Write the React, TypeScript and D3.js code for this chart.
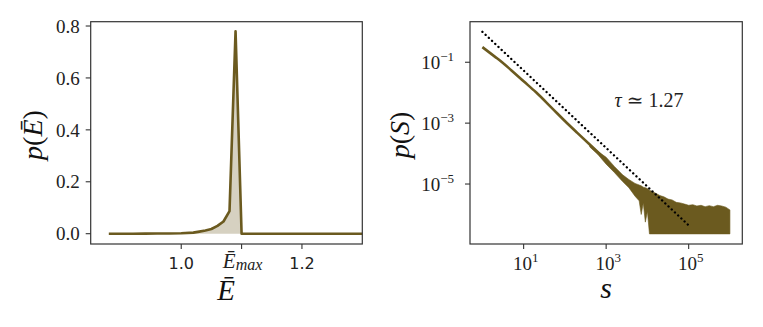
import * as d3 from 'd3';

// left panel: distribution of mean energy
const energy = [0.88, 0.9, 0.92, 0.94, 0.96, 0.98, 1.0, 1.02, 1.03, 1.04, 1.05, 1.06, 1.07, 1.08, 1.09, 1.1, 1.15, 1.2, 1.25, 1.3];
const pEnergy = [0, 0, 0, 0.0003, 0.0006, 0.001, 0.0015, 0.004, 0.008, 0.012, 0.018, 0.03, 0.047, 0.087, 0.78, 0, 0, 0, 0, 0];
const leftYTicks = [0, 0.2, 0.4, 0.6, 0.8];
const leftXTicks = [1.0, 1.1, 1.2];
const leftXLabels = ['1.0', 'Emax', '1.2'];

// right panel: avalanche size distribution
const sizeMain = [1, 2, 3, 5, 10, 20, 50, 100, 200, 500, 1000];
const pSizeMain = [0.314, 0.153, 0.1, 0.0548, 0.0237, 0.0103, 0.003, 0.00118, 0.00048, 0.000149, 0.000062];
const sizeTail = [400, 630, 1000, 1580, 2510, 3550, 5010, 6310, 7080, 7940, 8910, 10000, 11200, 12600, 15800, 20000, 25100, 31600, 39800, 50100, 63100, 79400, 1e5, 1.26e5, 1.58e5, 2.0e5, 2.51e5, 3.16e5, 3.98e5, 5.01e5, 6.31e5, 7.94e5, 1e6];
const pTailHigh = [2.0e-4, 1.17e-4, 7.6e-5, 3.8e-5, 2.0e-5, 1.41e-5, 1.05e-5, 9.3e-6, 8.7e-6, 7.9e-6, 7.6e-6, 7.1e-6, 6.3e-6, 5.8e-6, 5.0e-6, 4.2e-6, 3.8e-6, 3.2e-6, 3.0e-6, 2.5e-6, 2.4e-6, 2.2e-6, 2.0e-6, 2.1e-6, 1.9e-6, 2.0e-6, 1.8e-6, 1.95e-6, 1.8e-6, 2.0e-6, 1.9e-6, 1.74e-6, 1.41e-6];
const pTailLow = [1.66e-4, 9.3e-5, 4.5e-5, 2.4e-5, 1.2e-5, 7.6e-6, 4.0e-6, 2.8e-6, 1.0e-6, 2.4e-6, 5.6e-7, 1.26e-6, 2.3e-7, 2.3e-7, 2.3e-7, 2.3e-7, 2.3e-7, 2.3e-7, 2.3e-7, 2.3e-7, 2.3e-7, 2.3e-7, 2.3e-7, 2.3e-7, 2.3e-7, 2.3e-7, 2.3e-7, 2.3e-7, 2.3e-7, 2.3e-7, 2.3e-7, 2.3e-7, 2.3e-7];
const fitSize = [1, 1e5];
const fitP = [1, 4.4e-7];
const rightXTicks = [10, 1e3, 1e5];
const rightXExp = ['1', '3', '5'];
const rightYTicks = [1e-1, 1e-3, 1e-5];
const rightYExp = ['\u22121', '\u22123', '\u22125'];

const W = 763, H = 327;
const olive = '#6b5a1f';
const spine = '#333';
const serif = '"Liberation Serif", "DejaVu Serif", serif';
const sans = '"DejaVu Sans", sans-serif';

const L = { left: 90.7, right: 362.3, top: 21.7, bottom: 244 };
const R = { left: 470, right: 742.3, top: 21.7, bottom: 244 };

export default function App() {
    let x0 = d3.scaleLinear().domain([0.85, 1.3]).range([L.left, L.right]),
        y0 = d3.scaleLinear().domain([-0.0397, 0.8166]).range([L.bottom, L.top]),
        x1 = d3.scaleLog().domain([Math.pow(10, -0.3), Math.pow(10, 6.3)]).range([R.left, R.right]),
        y1 = d3.scaleLog().domain([Math.pow(10, -6.97), Math.pow(10, 0.332)]).range([R.bottom, R.top]);

    let leftPts = energy.map((e, i) => [e, pEnergy[i]]);
    let leftLine = d3.line().x(d => x0(d[0])).y(d => y0(d[1]))(leftPts as any);
    let leftArea = d3.area().x(d => x0(d[0])).y0(y0(0)).y1(d => y0(d[1]))(leftPts as any);

    let logLine = d3.line().x(d => x1(d[0])).y(d => y1(d[1]));
    let mainPath = d3.line().x(d => x1(d[0])).y(d => y1(d[1])).curve(d3.curveMonotoneX)(sizeMain.map((s, i) => [s, pSizeMain[i]]) as any);
    let band = sizeTail.map((s, i) => [s, pTailHigh[i]])
        .concat(sizeTail.map((s, i) => [s, pTailLow[i]]).reverse());
    let bandPath = logLine(band as any) + 'Z';
    let fitPath = logLine(fitSize.map((s, i) => [s, fitP[i]]) as any);

    return (
        <svg width={W} height={H} style={{ position: 'absolute', left: 0, top: 0, background: '#fff' }}>
            {/* left panel */}
            <path d={leftArea!} fill={olive} fillOpacity={0.28} stroke="none" />
            <path d={leftLine!} fill="none" stroke={olive} strokeWidth={2.6} strokeLinejoin="round" />
            <rect x={L.left} y={L.top} width={L.right - L.left} height={L.bottom - L.top} fill="none" stroke={spine} strokeWidth={1.2} />
            {leftYTicks.map(t => (
                <g key={t}>
                    <line x1={L.left - 5} x2={L.left} y1={y0(t)} y2={y0(t)} stroke={spine} strokeWidth={1.1} />
                    <text x={L.left - 11} y={y0(t)} dy="0.35em" textAnchor="end" fontFamily={serif} fontSize={19} fill="#222">{t.toFixed(1)}</text>
                </g>
            ))}
            {leftXTicks.map((t, i) => (
                <g key={t}>
                    <line x1={x0(t)} x2={x0(t)} y1={L.bottom} y2={L.bottom + 5} stroke={spine} strokeWidth={1.1} />
                    {leftXLabels[i] === 'Emax' ? (
                        <text x={x0(t) + 1} y={267.5} textAnchor="middle" fontFamily={serif} fontSize={21} fill="#222">
                            <tspan fontStyle="italic">{'\u0112'}</tspan>
                            <tspan fontStyle="italic" fontSize={16} dy={2}>max</tspan>
                        </text>
                    ) : (
                        <text x={x0(t)} y={269} textAnchor="middle" fontFamily={sans} fontSize={16} fill="#222">{leftXLabels[i]}</text>
                    )}
                </g>
            ))}
            <text x={226} y={300} textAnchor="middle" fontFamily={serif} fontSize={29} fontStyle="italic" fill="#111">{'\u0112'}</text>
            <text transform="translate(42,135) rotate(-90)" textAnchor="middle" fontFamily={serif} fontSize={28} fill="#111">
                <tspan fontStyle="italic">p</tspan>(<tspan fontStyle="italic">{'\u0112'}</tspan>)
            </text>

            {/* right panel */}
            <path d={bandPath} fill={olive} stroke={olive} strokeWidth={0.6} />
            <path d={mainPath!} fill="none" stroke={olive} strokeWidth={2.6} strokeLinejoin="round" />
            <path d={fitPath!} fill="none" stroke="#000" strokeWidth={2.3} strokeLinecap="round" strokeDasharray="0.1 4.3" />
            <rect x={R.left} y={R.top} width={R.right - R.left} height={R.bottom - R.top} fill="none" stroke={spine} strokeWidth={1.2} />
            {rightYTicks.map((t, i) => (
                <g key={t}>
                    <line x1={R.left - 5} x2={R.left} y1={y1(t)} y2={y1(t)} stroke={spine} strokeWidth={1.1} />
                    <text x={R.left - 16} y={y1(t) + 7} textAnchor="end" fontFamily={serif} fontSize={19} fill="#222">
                        10<tspan fontSize={13} dy={-8}>{rightYExp[i]}</tspan>
                    </text>
                </g>
            ))}
            {rightXTicks.map((t, i) => (
                <g key={t}>
                    <line x1={x1(t)} x2={x1(t)} y1={R.bottom} y2={R.bottom + 5} stroke={spine} strokeWidth={1.1} />
                    <text x={x1(t) + 2} y={270} textAnchor="middle" fontFamily={serif} fontSize={19} fill="#222">
                        10<tspan fontSize={13} dy={-8}>{rightXExp[i]}</tspan>
                    </text>
                </g>
            ))}
            <text x={649} y={107} textAnchor="middle" fontFamily={serif} fontSize={20} fill="#222">
                <tspan fontStyle="italic">{'\u03c4'}</tspan> {'\u2243'} 1.27
            </text>
            <text x={606} y={298} textAnchor="middle" fontFamily={serif} fontSize={30} fontStyle="italic" fill="#111">s</text>
            <text transform="translate(409,135) rotate(-90)" textAnchor="middle" fontFamily={serif} fontSize={28} fill="#111">
                <tspan fontStyle="italic">p</tspan>(<tspan fontStyle="italic">S</tspan>)
            </text>
        </svg>
    );
}
